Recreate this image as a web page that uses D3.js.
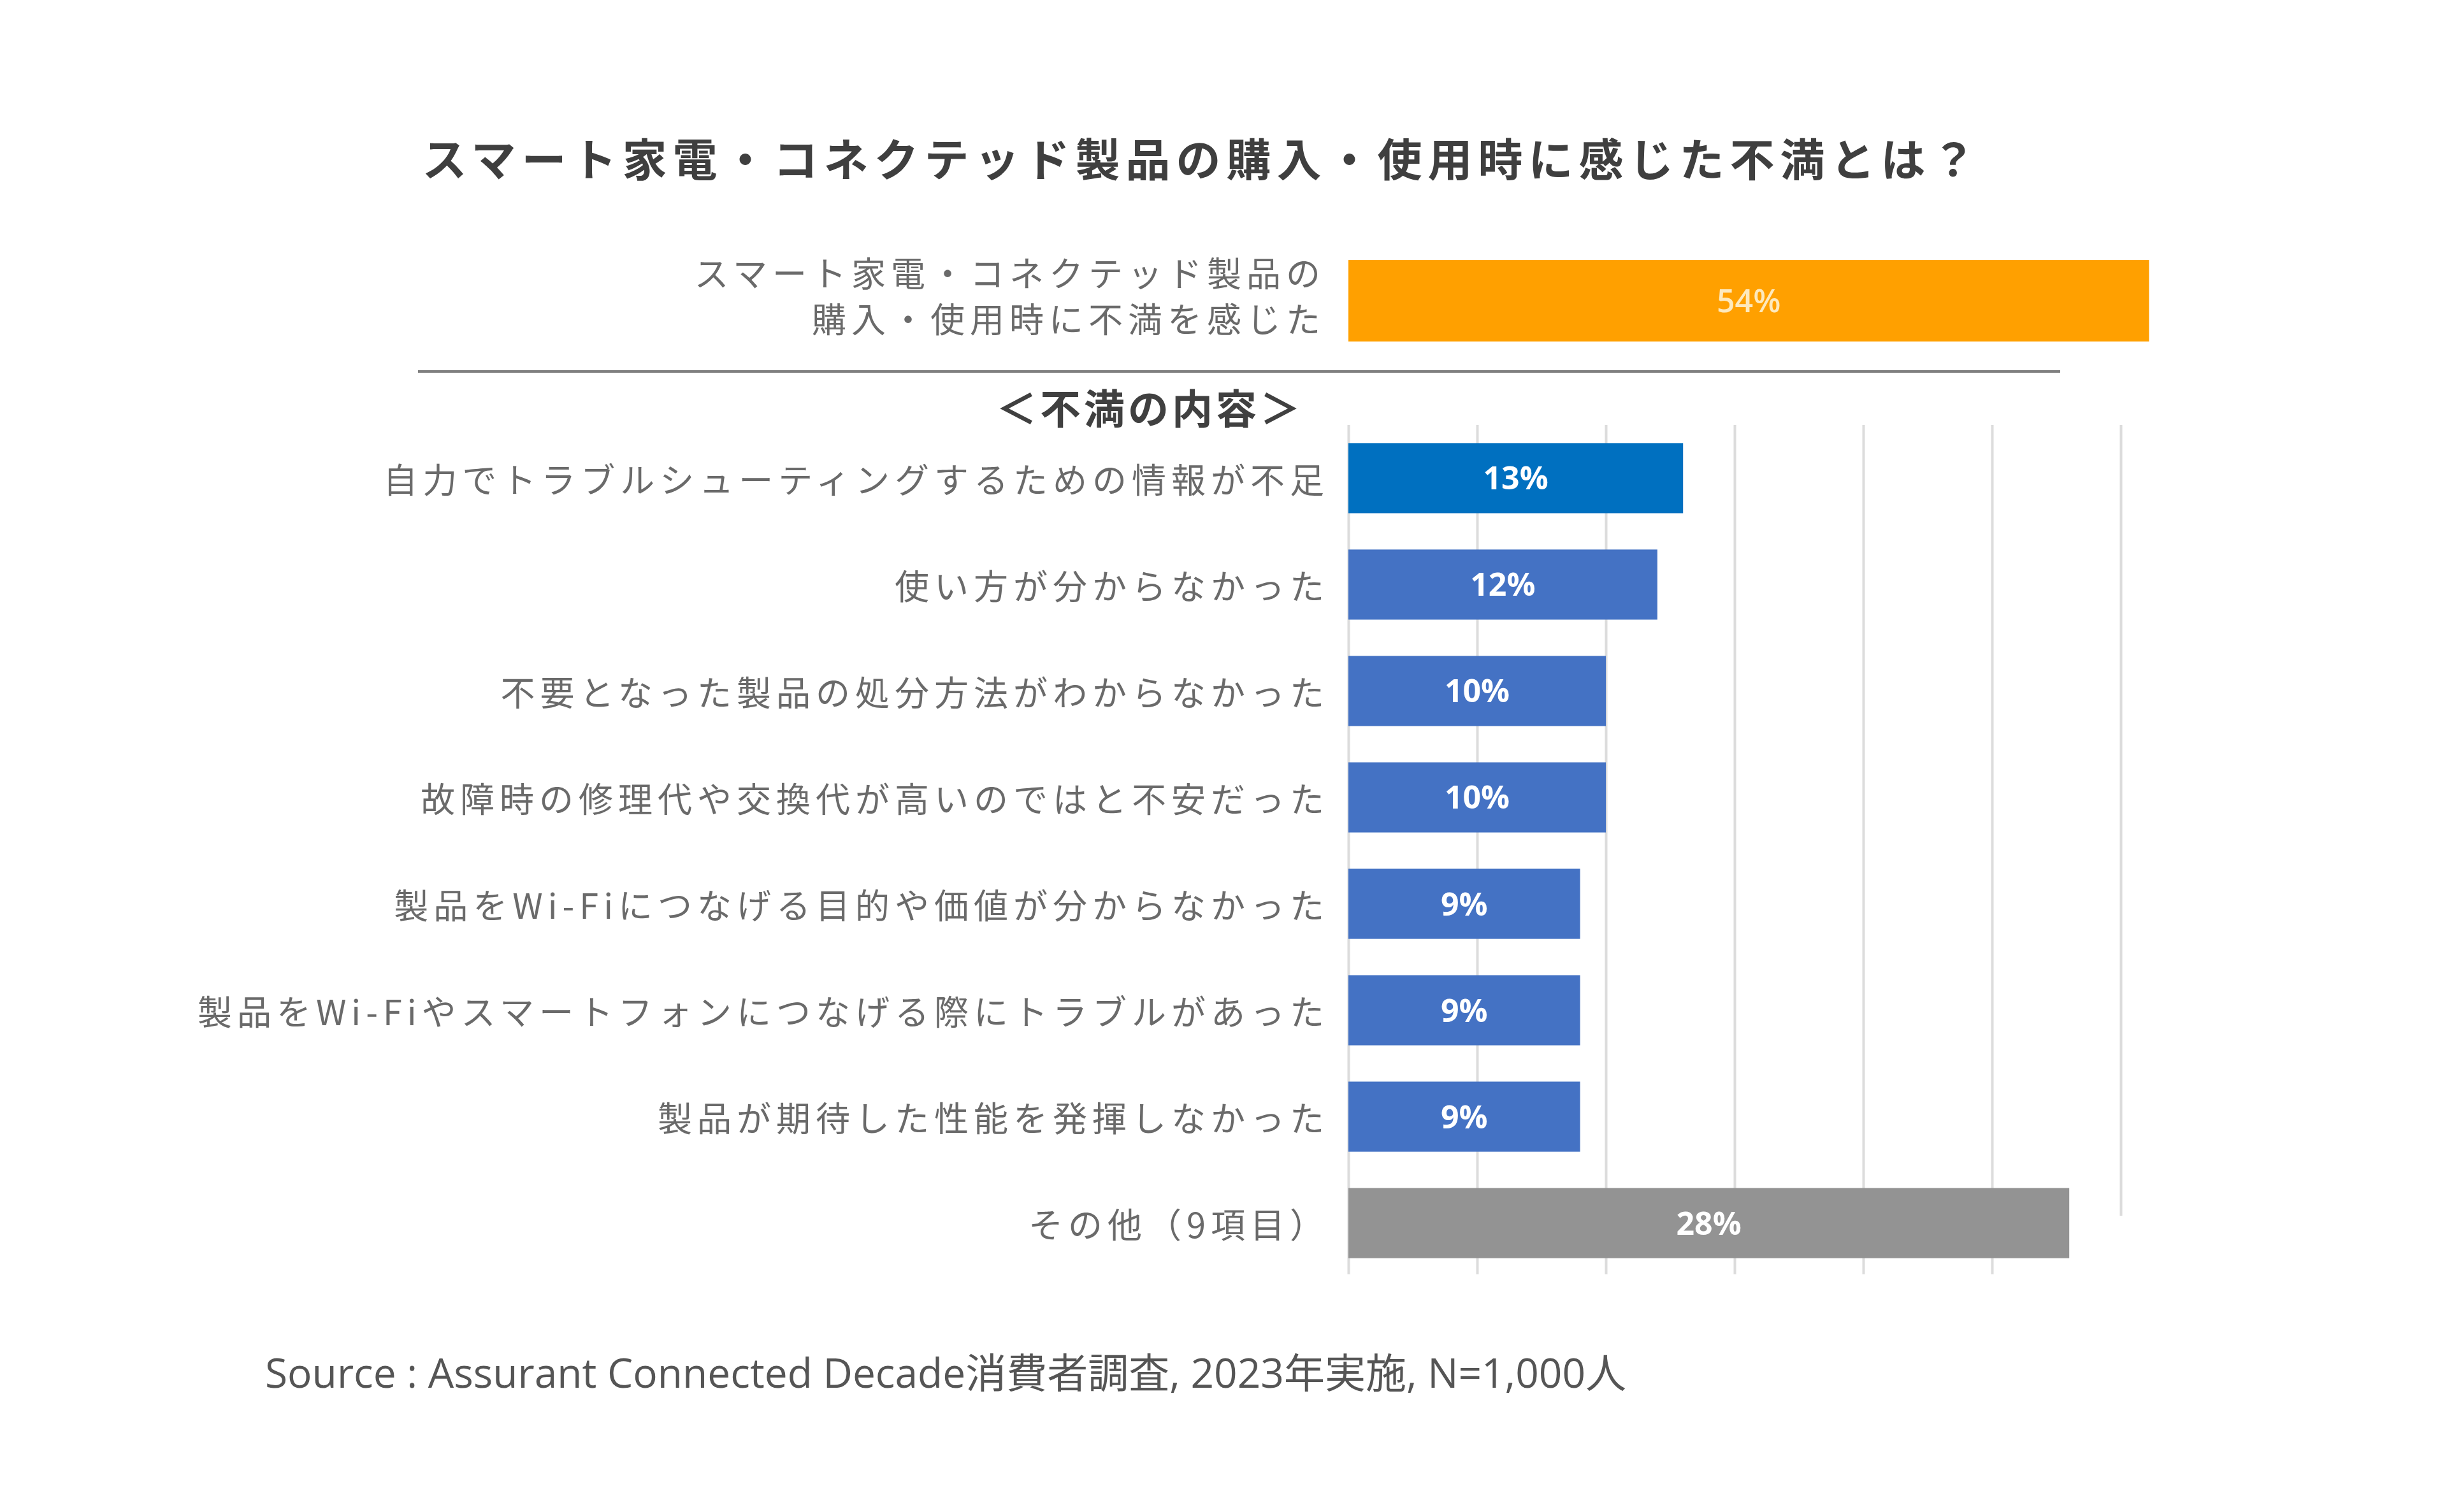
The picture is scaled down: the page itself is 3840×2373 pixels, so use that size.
<!DOCTYPE html>
<html>
<head>
<meta charset="utf-8">
<script src="https://cdn.jsdelivr.net/npm/d3@7"></script>
<style>
  html, body { margin: 0; padding: 0; background: #ffffff; }
  svg { display: block; }
</style>
</head>
<body>
<svg id="chart" width="3840" height="2373"></svg>
<script>
// data
var titleText = "スマート家電・コネクテッド製品の購入・使用時に感じた不満とは？";
var topLabelLines = ["スマート家電・コネクテッド製品の", "購入・使用時に不満を感じた"];
var topValues = [54];
var sectionLabel = "＜不満の内容＞";
var categories = [
    "自力でトラブルシューティングするための情報が不足",
    "使い方が分からなかった",
    "不要となった製品の処分方法がわからなかった",
    "故障時の修理代や交換代が高いのではと不安だった",
    "製品をWi-Fiにつなげる目的や価値が分からなかった",
    "製品をWi-Fiやスマートフォンにつなげる際にトラブルがあった",
    "製品が期待した性能を発揮しなかった",
    "その他（9項目）"
];
var values = [13, 12, 10, 10, 9, 9, 9, 28];
var gridTicks = [0, 5, 10, 15, 20, 25, 30];
var sourceText = "Source : Assurant Connected Decade消費者調査, 2023年実施, N=1,000人";

var svg = d3.select("#chart");
var jp = "'Noto Sans CJK JP', 'Noto Sans', sans-serif";
var num = "'Open Sans', 'Noto Sans', sans-serif";

// scales
var x = d3.scaleLinear().domain([0, 30]).range([2116, 3328]);
var y = d3.scaleBand().domain(categories).range([667, 2003])
    .paddingInner(0.341).paddingOuter(0.17);

// top (overall) bar has its own scale
var xTop = d3.scaleLinear().domain([0, 60]).range([2116, 3512]);
var yTop = d3.scaleBand().domain(["top"]).range([380, 564]).padding(0.18);

function barColor(d, i) {
    if (i === 0) return "#0070c0";
    if (i === categories.length - 1) return "#939393";
    return "#4472c4";
}

// title
svg.append("text")
    .attr("x", 1886)
    .attr("y", 277)
    .attr("text-anchor", "middle")
    .attr("font-family", jp)
    .attr("font-weight", 700)
    .attr("font-size", 70)
    .attr("letter-spacing", 9)
    .attr("fill", "#3f3f3f")
    .text(titleText);

// gridlines (the 30% line stops short, as in the original)
var grid = svg.append("g")
    .attr("transform", "translate(0," + 2000 + ")")
    .call(d3.axisBottom(x).tickValues(gridTicks).tickSize(-(2000 - 667)).tickFormat(""));
grid.select(".domain").remove();
grid.selectAll(".tick line")
    .attr("stroke", "#dcdcdc")
    .attr("stroke-width", 4)
    .attr("y1", function(d) { return d === 30 ? -(2000 - 1908) : 0; });

// top bar
var topG = svg.append("g");
topG.selectAll("rect")
    .data(topValues)
    .enter().append("rect")
    .attr("x", xTop(0))
    .attr("y", yTop("top"))
    .attr("width", function(d) { return xTop(d) - xTop(0); })
    .attr("height", yTop.bandwidth())
    .attr("fill", "#ffa000");
topG.selectAll("text.val")
    .data(topValues)
    .enter().append("text")
    .attr("class", "val")
    .attr("x", function(d) { return (xTop(0) + xTop(d)) / 2; })
    .attr("y", yTop("top") + yTop.bandwidth() / 2)
    .attr("dy", "0.36em")
    .attr("text-anchor", "middle")
    .attr("font-family", num)
    .attr("font-weight", 600)
    .attr("font-size", 50)
    .attr("fill", "#fde9bd")
    .text(function(d) { return d + "%"; });

var topLab = svg.append("text")
    .attr("text-anchor", "end")
    .attr("font-family", jp)
    .attr("font-size", 54)
    .attr("letter-spacing", 8)
    .attr("fill", "#6a6a6a");
topLab.selectAll("tspan")
    .data(topLabelLines)
    .enter().append("tspan")
    .attr("x", 2080)
    .attr("y", function(d, i) { return 450 + i * 72; })
    .text(function(d) { return d; });

// separator
svg.append("line")
    .attr("x1", 656).attr("x2", 3233)
    .attr("y1", 583).attr("y2", 583)
    .attr("stroke", "#7f7f7f")
    .attr("stroke-width", 4);

svg.append("text")
    .attr("x", 2046)
    .attr("y", 665)
    .attr("text-anchor", "end")
    .attr("font-family", jp)
    .attr("font-weight", 700)
    .attr("font-size", 64)
    .attr("letter-spacing", 5)
    .attr("fill", "#404040")
    .text(sectionLabel);

// bars
var bars = svg.append("g");
bars.selectAll("rect")
    .data(values)
    .enter().append("rect")
    .attr("x", x(0))
    .attr("y", function(d, i) { return y(categories[i]); })
    .attr("width", function(d) { return x(d) - x(0); })
    .attr("height", y.bandwidth())
    .attr("fill", barColor);

bars.selectAll("text")
    .data(values)
    .enter().append("text")
    .attr("x", function(d) { return (x(0) + x(d)) / 2; })
    .attr("y", function(d, i) { return y(categories[i]) + y.bandwidth() / 2; })
    .attr("dy", "0.36em")
    .attr("text-anchor", "middle")
    .attr("font-family", num)
    .attr("font-weight", 700)
    .attr("font-size", 50)
    .attr("fill", "#ffffff")
    .text(function(d) { return d + "%"; });

// category labels
var yAxis = svg.append("g")
    .attr("transform", "translate(" + 2086 + ",6)")
    .call(d3.axisLeft(y).tickSize(0).tickPadding(0));
yAxis.select(".domain").remove();
yAxis.selectAll("text")
    .attr("font-family", jp)
    .attr("font-size", 54)
    .attr("letter-spacing", 8)
    .attr("fill", "#6a6a6a");

// source
svg.append("text")
    .attr("x", 416)
    .attr("y", 2178)
    .attr("font-family", "'Open Sans', 'Noto Sans CJK JP', sans-serif")
    .attr("font-size", 64)
    .attr("textLength", 2136)
    .attr("lengthAdjust", "spacingAndGlyphs")
    .attr("fill", "#555555")
    .text(sourceText);
</script>
</body>
</html>
